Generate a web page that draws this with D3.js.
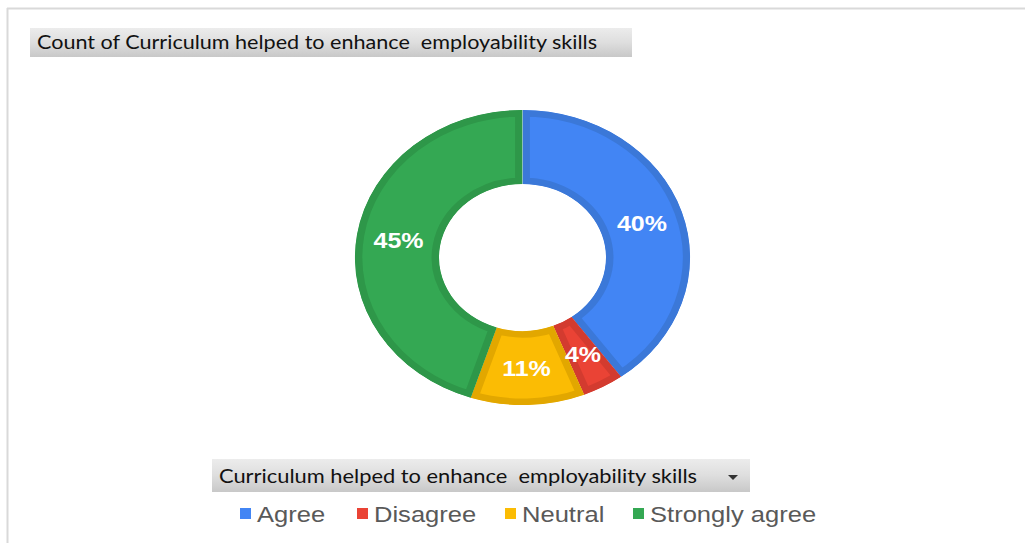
<!DOCTYPE html>
<html><head><meta charset="utf-8">
<script src="https://cdn.jsdelivr.net/npm/d3@7"></script>
<style>html,body{margin:0;padding:0;background:#fff;}svg{display:block;}text{white-space:pre;}</style>
</head><body>
<svg id="c" width="1025" height="543"></svg>
<script>
const categories = ["Agree", "Disagree", "Neutral", "Strongly agree"];
const values = [40, 4, 11, 45];
const fillColors = ["#4285F4", "#EA4335", "#FBBC04", "#34A853"];
const borderColors = ["#3B78D8", "#D33B2F", "#E2A700", "#2E9749"];
const chartTitle = "Count of Curriculum helped to enhance  employability skills";
const legendTitle = "Curriculum helped to enhance  employability skills";

const svg = d3.select("#c");
const defs = svg.append("defs");
const grad = defs.append("linearGradient").attr("id","g").attr("x1",0).attr("y1",0).attr("x2",0).attr("y2",1);
grad.append("stop").attr("offset","0").attr("stop-color","#ececec");
grad.append("stop").attr("offset","0.5").attr("stop-color","#dedede");
grad.append("stop").attr("offset","1").attr("stop-color","#c8c8c8");

// frame
svg.append("line").attr("x1",7).attr("x2",1025).attr("y1",8.5).attr("y2",8.5).attr("stroke","#d9d9d9").attr("stroke-width",2);
svg.append("line").attr("x1",7.5).attr("x2",7.5).attr("y1",8).attr("y2",543).attr("stroke","#d9d9d9").attr("stroke-width",2);

// title box
svg.append("rect").attr("x",30).attr("y",28).attr("width",602).attr("height",29).attr("fill","url(#g)");
svg.append("text").attr("x",37).attr("y",49).text(chartTitle)
  .attr("font-family","Lato, 'Open Sans', sans-serif").attr("font-size",19.5).attr("fill","#111")
  .attr("textLength",560).attr("lengthAdjust","spacingAndGlyphs");

// donut
const cx = 522.5, cy = 257.5, R = 147.5, r = 73.5, sx = 1.136;
const pie = d3.pie().sort(null).value(d => d)(values);
const arc = d3.arc().innerRadius(r).outerRadius(R);
const labelArc = d3.arc().innerRadius(110.5).outerRadius(110.5);
const g = svg.append("g").attr("transform", `translate(${cx},${cy}) scale(${sx},1)`);
pie.forEach((p,i) => {
  defs.append("clipPath").attr("id","cl"+i).append("path").attr("d", arc(p));
});
g.selectAll("path.s").data(pie).join("path").attr("class","s")
  .attr("d", arc).attr("fill",(d,i)=>fillColors[i])
  .attr("stroke",(d,i)=>borderColors[i]).attr("stroke-width",13)
  .attr("clip-path",(d,i)=>`url(#cl${i})`);
const total = d3.sum(values);
g.selectAll("text").data(pie).join("text")
  .attr("transform", d => `translate(${labelArc.centroid(d)[0]},${labelArc.centroid(d)[1]}) scale(1,1)`)
  .attr("dy","0.36em").attr("text-anchor","middle")
  .attr("font-family","'Liberation Sans', Arial, sans-serif").attr("font-weight","bold")
  .attr("font-size",22).attr("fill","#fff")
  .text(d => Math.round(d.data/total*100) + "%");

// legend title box
svg.append("rect").attr("x",212).attr("y",459).attr("width",538).attr("height",33).attr("fill","url(#g)");
svg.append("text").attr("x",219).attr("y",483).text(legendTitle)
  .attr("font-family","Lato, 'Open Sans', sans-serif").attr("font-size",19.5).attr("fill","#111")
  .attr("textLength",478).attr("lengthAdjust","spacingAndGlyphs");
svg.append("path").attr("d","M728,475 L738,475 L733,480 Z").attr("fill","#333");

// legend
const legX = [240, 357, 505, 633];
const lg = svg.append("g");
categories.forEach((c,i) => {
  lg.append("rect").attr("x",legX[i]).attr("y",508).attr("width",11).attr("height",11).attr("fill",fillColors[i]);
  lg.append("text").attr("transform",`translate(${legX[i]+17},522) scale(${sx},1)`).text(c)
    .attr("font-family","'Liberation Sans', Arial, sans-serif").attr("font-size",22.5).attr("fill","#595959");
});
</script>
</body></html>
